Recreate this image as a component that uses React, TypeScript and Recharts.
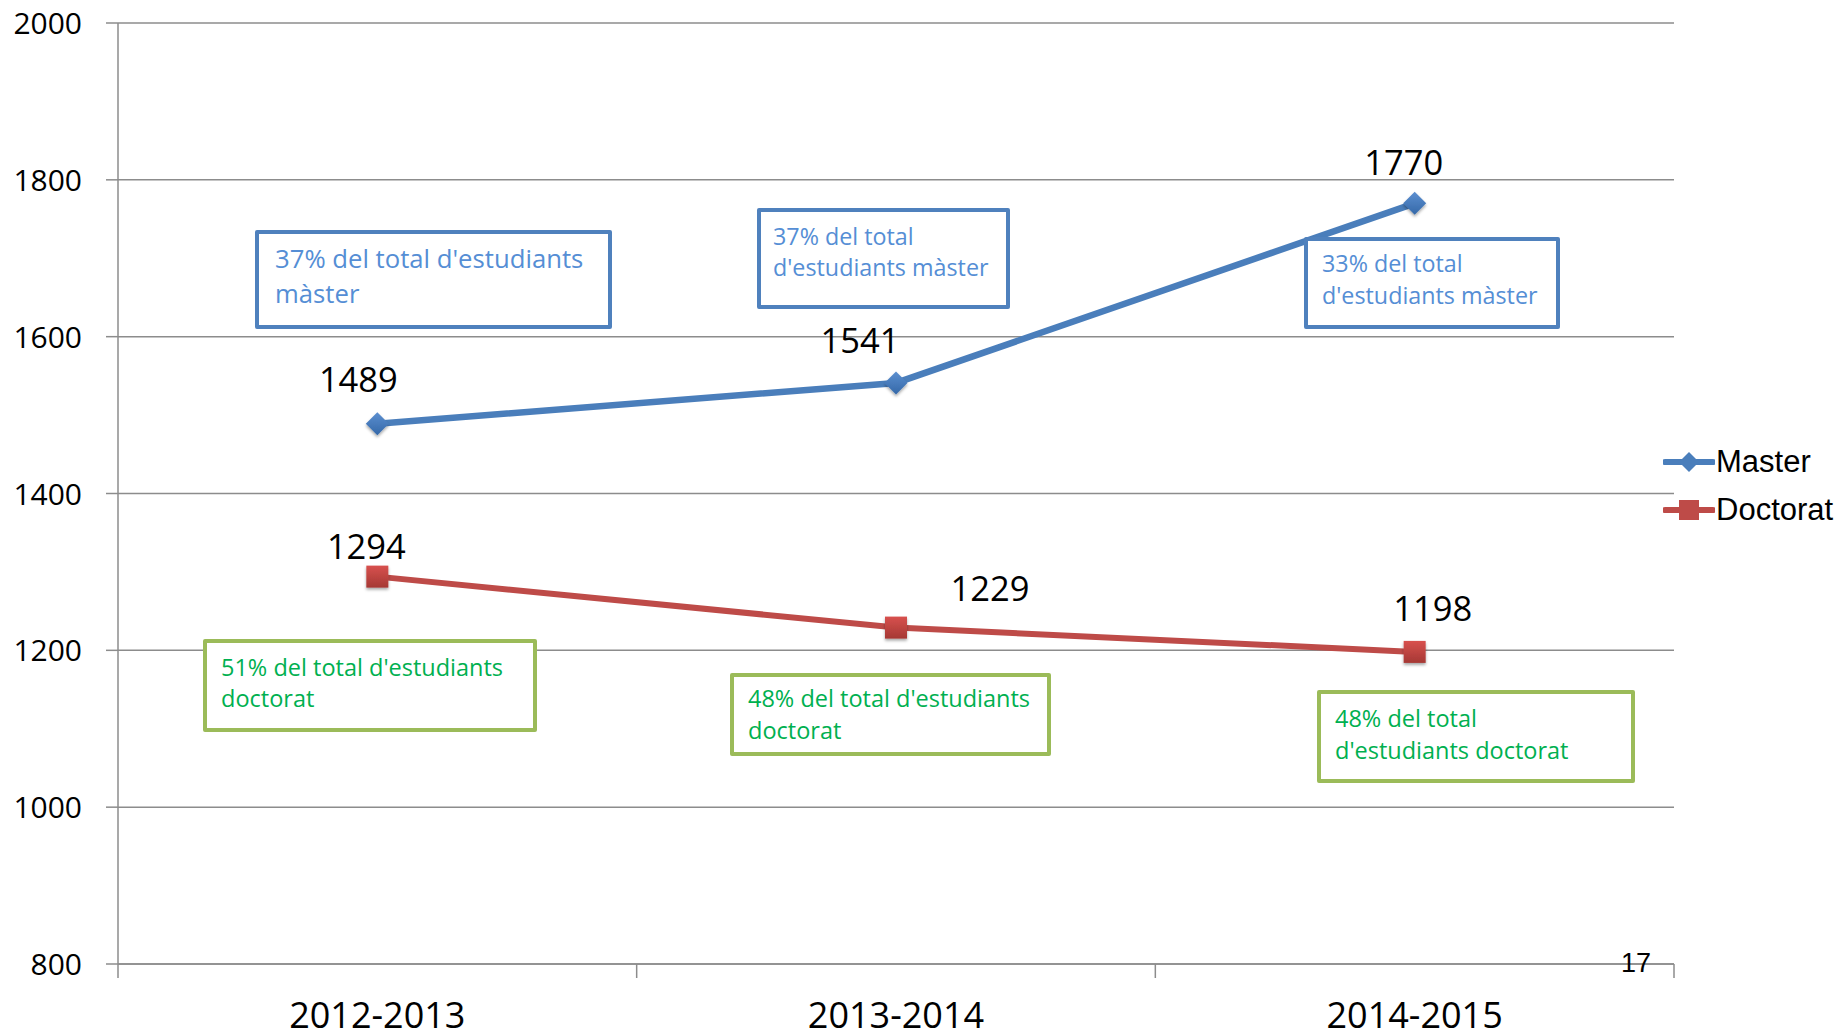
import React from 'react';
import { LineChart, Line, XAxis, YAxis, CartesianGrid, LabelList } from 'recharts';

// ---------- data ----------
const categories = ['2012-2013', '2013-2014', '2014-2015'];
const masterValues = [1489, 1541, 1770];
const doctoratValues = [1294, 1229, 1198];
const yTicks = [800, 1000, 1200, 1400, 1600, 1800, 2000];
const masterNotes = [
  ["37% del total d'estudiants", 'màster'],
  ['37% del total', "d'estudiants màster"],
  ['33% del total', "d'estudiants màster"],
];
const doctoratNotes = [
  ["51% del total d'estudiants", 'doctorat'],
  ["48% del total d'estudiants", 'doctorat'],
  ['48% del total', "d'estudiants doctorat"],
];
const pageNumber = '17';

// ---------- layout / style ----------
const W = 1839;
const H = 1034;
const M = { top: 23, right: 165, bottom: 0, left: 0 };
const Y_W = 118;
const X_H = 70;
const PLOT_W = W - M.left - M.right - Y_W;

const BLUE = '#4A7EBB';
const RED = '#BE4B48';
const GRID = '#8C8C8C';
const FONT = '"Open Sans", Arial, sans-serif';

const masterLabelOffsets = [[-19, -44], [-36, -42], [-11, -40]];
const doctoratLabelOffsets = [[-11, -30], [94, -39], [18, -43]];

const masterBoxLayout = [
  { left: 255, top: 230, w: 357, h: 99, tx: 275, c1: 258, lh: 35, fs: 25.7 },
  { left: 757, top: 208, w: 253, h: 101, tx: 773, c1: 236, lh: 31, fs: 23.3 },
  { left: 1304, top: 237, w: 256, h: 92, tx: 1322, c1: 263, lh: 32, fs: 23.3 },
];
const doctoratBoxLayout = [
  { left: 203, top: 639, w: 334, h: 93, tx: 221, c1: 667, lh: 31, fs: 23.5 },
  { left: 730, top: 673, w: 321, h: 83, tx: 748, c1: 698, lh: 32, fs: 23.5 },
  { left: 1317, top: 690, w: 318, h: 93, tx: 1335, c1: 718, lh: 32, fs: 23.5 },
];

const data = categories.map((name, i) => ({
  x: i + 0.5,
  name,
  master: masterValues[i],
  doctorat: doctoratValues[i],
}));

const XTick = (props: any) => {
  const { x, y, payload } = props;
  const idx = payload.value;
  if (idx >= categories.length) return null;
  return (
    <text
      x={x + PLOT_W / categories.length / 2}
      y={y + 48}
      textAnchor="middle"
      fontFamily={FONT}
      fontSize={36}
      fill="#000"
    >
      {categories[idx]}
    </text>
  );
};

const YTick = (props: any) => {
  const { x, y, payload } = props;
  return (
    <text x={x} y={y} dy={11} textAnchor="end" fontFamily={FONT} fontSize={30} fill="#000">
      {payload.value}
    </text>
  );
};

const Diamond = (props: any) => {
  const { cx, cy } = props;
  if (cx == null || cy == null) return null;
  const r = 11.5;
  return (
    <g filter="url(#shadow)">
      <polygon
        points={`${cx},${cy - r} ${cx + r},${cy} ${cx},${cy + r} ${cx - r},${cy}`}
        fill="url(#blueGrad)"
      />
    </g>
  );
};

const Square = (props: any) => {
  const { cx, cy } = props;
  if (cx == null || cy == null) return null;
  const r = 11;
  return (
    <g filter="url(#shadow)">
      <rect x={cx - r} y={cy - r} width={2 * r} height={2 * r} fill="url(#redGrad)" />
    </g>
  );
};

const makeLabel = (offsets: number[][]) => (props: any) => {
  const { x, y, index, value } = props;
  const o = offsets[index] || [0, -40];
  return (
    <text
      x={x + o[0]}
      y={y + o[1]}
      dy={12}
      textAnchor="middle"
      fontFamily={FONT}
      fontSize={34.5}
      fill="#000"
    >
      {value}
    </text>
  );
};

const NoteBox = ({ lines, layout, border, color }: any) => (
  <div
    style={{
      position: 'absolute',
      left: layout.left,
      top: layout.top,
      width: layout.w,
      height: layout.h,
      border: `4px solid ${border}`,
      borderRadius: 2,
      boxSizing: 'border-box',
      background: '#fff',
    }}
  >
    {lines.map((t: string, i: number) => (
      <div
        key={i}
        style={{
          position: 'absolute',
          left: layout.tx - layout.left - 4,
          top: layout.c1 + i * layout.lh - layout.lh / 2 - layout.top - 4,
          height: layout.lh,
          lineHeight: `${layout.lh}px`,
          fontFamily: FONT,
          fontSize: layout.fs,
          color,
          whiteSpace: 'nowrap',
        }}
      >
        {t}
      </div>
    ))}
  </div>
);

const LegendItem = ({ top, label, color, marker }: any) => (
  <div style={{ position: 'absolute', left: 1663, top: top - 20, height: 40, display: 'flex', alignItems: 'center' }}>
    <svg width={52} height={40}>
      <line x1={2} y1={20} x2={50} y2={20} stroke={color} strokeWidth={6} strokeLinecap="round" />
      {marker === 'diamond' ? (
        <polygon points="26,10 36,20 26,30 16,20" fill={color} />
      ) : (
        <rect x={16} y={10} width={20} height={20} fill={color} />
      )}
    </svg>
    <span style={{ fontFamily: '"Liberation Sans", Arial, sans-serif', fontSize: 31, color: '#000', marginLeft: 1 }}>
      {label}
    </span>
  </div>
);

export default function App() {
  return (
    <div style={{ position: 'absolute', left: 0, top: 0, width: W, height: H, background: '#fff', overflow: 'hidden' }}>
      <LineChart width={W} height={H} data={data} margin={M}>
        <defs>
          <linearGradient id="blueGrad" x1="0" y1="0" x2="0" y2="1">
            <stop offset="0%" stopColor="#5C8FD0" />
            <stop offset="100%" stopColor="#3468A8" />
          </linearGradient>
          <linearGradient id="redGrad" x1="0" y1="0" x2="0" y2="1">
            <stop offset="0%" stopColor="#D8514E" />
            <stop offset="100%" stopColor="#A53834" />
          </linearGradient>
          <filter id="shadow" x="-50%" y="-50%" width="200%" height="200%">
            <feDropShadow dx="0" dy="2" stdDeviation="1.5" floodColor="#000" floodOpacity="0.35" />
          </filter>
        </defs>
        <CartesianGrid horizontal vertical={false} stroke={GRID} strokeWidth={1.5} />
        <XAxis
          dataKey="x"
          type="number"
          domain={[0, categories.length]}
          ticks={categories.map((_, i) => i).concat([categories.length])}
          tick={<XTick />}
          tickSize={14}
          tickMargin={2}
          height={X_H}
          stroke={GRID}
          strokeWidth={1.5}
          interval={0}
        />
        <YAxis
          type="number"
          domain={[800, 2000]}
          ticks={yTicks}
          tick={<YTick />}
          tickSize={12}
          tickMargin={24}
          width={Y_W}
          stroke={GRID}
          strokeWidth={1.5}
          interval={0}
        />
        <Line
          dataKey="master"
          name="Master"
          stroke={BLUE}
          strokeWidth={6.5}
          dot={<Diamond />}
          activeDot={false}
          isAnimationActive={false}
        >
          <LabelList dataKey="master" content={makeLabel(masterLabelOffsets)} />
        </Line>
        <Line
          dataKey="doctorat"
          name="Doctorat"
          stroke={RED}
          strokeWidth={6}
          dot={<Square />}
          activeDot={false}
          isAnimationActive={false}
        >
          <LabelList dataKey="doctorat" content={makeLabel(doctoratLabelOffsets)} />
        </Line>
      </LineChart>

      {masterNotes.map((lines, i) => (
        <NoteBox key={'m' + i} lines={lines} layout={masterBoxLayout[i]} border="#4F81BD" color="#558ED5" />
      ))}
      {doctoratNotes.map((lines, i) => (
        <NoteBox key={'d' + i} lines={lines} layout={doctoratBoxLayout[i]} border="#9BBB59" color="#00B050" />
      ))}

      <LegendItem top={462} label="Master" color={BLUE} marker="diamond" />
      <LegendItem top={510} label="Doctorat" color={RED} marker="square" />

      <div
        style={{
          position: 'absolute',
          left: 1621,
          top: 948,
          fontFamily: '"Liberation Sans", Arial, sans-serif',
          fontSize: 27,
          lineHeight: '30px',
          color: '#000',
        }}
      >
        {pageNumber}
      </div>
    </div>
  );
}
